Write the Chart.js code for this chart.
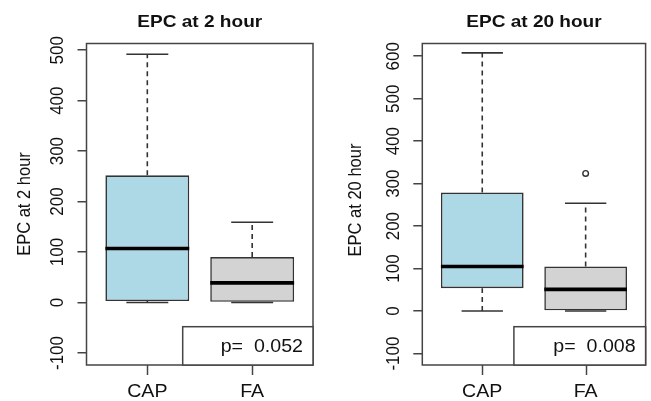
<!DOCTYPE html>
<html><head><meta charset="utf-8">
<script src="https://cdn.jsdelivr.net/npm/chart.js@4"></script>
<style>
html,body{margin:0;padding:0;background:#fff;}
#wrap{position:relative;width:651px;height:401px;background:#fff;}
.panel{position:absolute;top:0;height:401px;}
canvas{display:block;}
</style></head><body>
<div id="wrap">
<div class="panel" style="left:0;width:330px"><canvas id="c1" width="330" height="401"></canvas></div>
<div class="panel" style="left:330px;width:321px"><canvas id="c2" width="321" height="401"></canvas></div>
</div>
<script>
// ---------- data ----------
const categories = ['CAP', 'FA'];
const boxColors = ['#ADD8E6', '#D3D3D3'];

// EPC at 2 hour
const title2h = 'EPC at 2 hour';
const yTicks2h = [-100, 0, 100, 200, 300, 400, 500];
const min2h = [0, 0];
const q1_2h = [3, 0];
const med2h = [107, 39];
const q3_2h = [252, 90];
const max2h = [492, 159];
const out2h = [[], []];
const p2h = 'p=  0.052';

// EPC at 20 hour
const title20h = 'EPC at 20 hour';
const yTicks20h = [-100, 0, 100, 200, 300, 400, 500, 600];
const min20h = [0, 0];
const q1_20h = [54, 0];
const med20h = [105, 51];
const q3_20h = [279, 105];
const max20h = [608, 254];
const out20h = [[], [324]];
const p20h = 'p=  0.008';

// ---------- helpers ----------
const FONT = '"Liberation Sans", Arial, sans-serif';
const SX = 1.12;
function txt(ctx, s, x, y, font, align, rot) {
  ctx.save();
  ctx.translate(x, y);
  ctx.scale(SX, 1);
  if (rot) ctx.rotate(rot);
  ctx.font = font;
  ctx.fillStyle = '#111';
  ctx.textAlign = align || 'center';
  ctx.textBaseline = 'middle';
  ctx.fillText(s, 0, 0);
  ctx.restore();
}

function makeChart(id, p) {
  const boxHalf = (ctx) => { const s = ctx.chart.scales.x; return s.getPixelForValue(1.4) - s.getPixelForValue(1); };
  const capHalf = (ctx) => boxHalf(ctx) / 2;
  const datasets = [];
  datasets.push({
    type: 'bar',
    data: categories.map((c, i) => ({ x: i + 1, y: [p.q1[i], p.q3[i]] })),
    backgroundColor: boxColors,
    borderColor: '#333',
    borderWidth: 1.6,
    borderSkipped: false,
    barPercentage: 0.8,
    categoryPercentage: 1,
    order: 2
  });
  categories.forEach((c, i) => {
    datasets.push({ type: 'line', data: [{ x: i + 1, y: p.q3[i] }, { x: i + 1, y: p.max[i] }],
      borderColor: '#333', borderWidth: 1.6, borderDash: [5, 4], pointRadius: 0, order: 3 });
    datasets.push({ type: 'line', data: [{ x: i + 1, y: p.min[i] }, { x: i + 1, y: p.q1[i] }],
      borderColor: '#333', borderWidth: 1.6, borderDash: [5, 4], pointRadius: 0, order: 3 });
  });
  datasets.push({ type: 'scatter',
    data: categories.map((c, i) => ({ x: i + 1, y: p.max[i] })).concat(categories.map((c, i) => ({ x: i + 1, y: p.min[i] }))),
    pointStyle: 'line', pointRadius: capHalf, pointBorderColor: '#333', pointBorderWidth: 1.6, order: 1 });
  datasets.push({ type: 'scatter',
    data: categories.map((c, i) => ({ x: i + 1, y: p.med[i] })),
    pointStyle: 'line', pointRadius: boxHalf, pointBorderColor: '#000', pointBorderWidth: 3.6, order: 0 });
  const outs = [];
  p.out.forEach((arr, i) => arr.forEach(v => outs.push({ x: i + 1, y: v })));
  datasets.push({ type: 'scatter', data: outs, pointStyle: 'circle', pointRadius: 2.8,
    pointBackgroundColor: 'rgba(0,0,0,0)', pointBorderColor: '#333', pointBorderWidth: 1.4, order: 0 });

  const textPlugin = {
    id: 'rtext',
    afterDraw(chart) {
      const ctx = chart.ctx, a = chart.chartArea, ys = chart.scales.y, xs = chart.scales.x;
      ctx.save();
      ctx.setLineDash([]);
      ctx.strokeStyle = '#444'; ctx.lineWidth = 1.5;
      // frame
      ctx.strokeRect(a.left, a.top, a.right - a.left, a.bottom - a.top);
      // legend box
      ctx.fillStyle = '#fff';
      const lw = p.legW, lh = 38.3;
      ctx.fillRect(a.right - lw, a.bottom - lh, lw, lh);
      ctx.strokeRect(a.right - lw, a.bottom - lh, lw, lh);
      // x tick marks at category positions
      categories.forEach((c, i) => {
        const px = Math.round(xs.getPixelForValue(i + 1)) + 0.5;
        ctx.beginPath(); ctx.moveTo(px, a.bottom); ctx.lineTo(px, a.bottom + 10); ctx.stroke();
      });
      ctx.restore();
      txt(ctx, p.pval, a.right - 10, a.bottom - 17.5, '17.5px ' + FONT, 'right');
      // title
      txt(ctx, p.title, (a.left + a.right) / 2, 22, 'bold 17px ' + FONT, 'center');
      // y tick labels
      p.yTicks.forEach(v => txt(ctx, String(v), a.left - p.tickLabOff, ys.getPixelForValue(v), '17px ' + FONT, 'center', -Math.PI / 2));
      // y title
      txt(ctx, p.title, p.yTitleX, p.yTitleY, '16.5px ' + FONT, 'center', -Math.PI / 2);
      // x labels
      categories.forEach((c, i) => txt(ctx, c, xs.getPixelForValue(i + 1), 392, '17.5px ' + FONT, 'center'));
    }
  };

  return new Chart(document.getElementById(id), {
    type: 'bar',
    data: { datasets },
    options: {
      responsive: false,
      animation: false,
      events: [],
      layout: { padding: { left: 0, right: p.padR, top: 43.5, bottom: 0 } },
      plugins: { legend: { display: false }, tooltip: { enabled: false }, title: { display: false } },
      scales: {
        x: {
          type: 'linear', min: 0.42, max: 2.58, offset: false,
          afterBuildTicks: (s) => { s.ticks = categories.map((c, i) => ({ value: i + 1 })); },
          afterFit: (s) => { s.height = 36; },
          ticks: { display: false },
          grid: { display: false },
          border: { display: false }
        },
        y: {
          type: 'linear', min: p.yMin, max: p.yMax,
          afterBuildTicks: (s) => { s.ticks = p.yTicks.map(v => ({ value: v })); },
          afterFit: (s) => { s.width = p.axisW; },
          ticks: { display: false },
          grid: { offset: false, drawOnChartArea: false, drawTicks: true, tickLength: 9, color: '#444', lineWidth: 1.5 },
          border: { display: false }
        }
      }
    },
    plugins: [textPlugin]
  });
}

makeChart('c1', { title: title2h, yTicks: yTicks2h, min: min2h, q1: q1_2h, med: med2h, q3: q3_2h, max: max2h,
  out: out2h, pval: p2h, yMin: -123.8, yMax: 513.3, axisW: 86.5, padR: 17, legW: 130.3,
  tickLabOff: 29, yTitleX: 25, yTitleY: 204 });
makeChart('c2', { title: title20h, yTicks: yTicks20h, min: min20h, q1: q1_20h, med: med20h, q3: q3_20h, max: max20h,
  out: out20h, pval: p20h, yMin: -127, yMax: 630, axisW: 92.3, padR: 1, legW: 131.7,
  tickLabOff: 29, yTitleX: 25.5, yTitleY: 200 });
</script>
</body></html>
